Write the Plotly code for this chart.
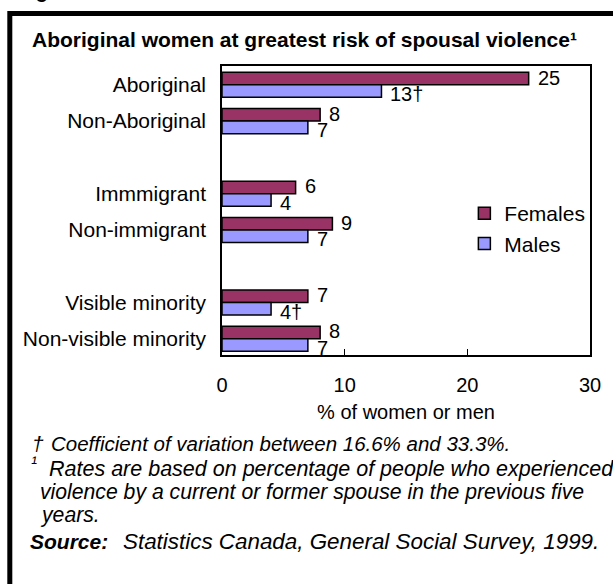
import plotly.graph_objects as go

# Data: share of women / men reporting spousal violence, by population group
categories = ["Aboriginal", "Non-Aboriginal", "Immmigrant", "Non-immigrant",
              "Visible minority", "Non-visible minority"]
females = [25, 8, 6, 9, 7, 8]
males = [13, 7, 4, 7, 4, 7]
female_labels = ["25", "8", "6", "9", "7", "8"]
male_labels = ["13†", "7", "4", "7", "4†", "7"]
x_ticks = [0, 10, 20, 30]

FONT = "Liberation Sans, Arial, sans-serif"
W, H = 613, 584
L, R, T, B = 222, 19, 66, 229
PW, PH = W - L - R, H - T - B

def px(xp):
    return (xp - L) / PW

def py(yp):
    return (H - B - yp) / PH

# pairs of categories are separated by an empty slot
pos = [i + i // 2 for i in range(len(categories))]
bw = 0.345

fig = go.Figure()
fig.add_trace(go.Bar(
    name="Females", y=pos, x=females, orientation="h",
    width=bw, offset=-bw,
    marker=dict(color="#993366", line=dict(color="black", width=1.5)),
    legendgroup="f",
))
fig.add_trace(go.Bar(
    name="Males", y=pos, x=males, orientation="h",
    width=bw, offset=0,
    marker=dict(color="#9999FF", line=dict(color="black", width=1.5)),
    legendgroup="m",
))

annotations = []
for p, v, t in zip(pos, females, female_labels):
    annotations.append(dict(x=v, y=p - bw / 2, text=t, xref="x", yref="y",
                            xanchor="left", yanchor="middle", showarrow=False,
                            xshift=7, yshift=1,
                            font=dict(family=FONT, size=20, color="black")))
for p, v, t in zip(pos, males, male_labels):
    annotations.append(dict(x=v, y=p + bw / 2, text=t, xref="x", yref="y",
                            xanchor="left", yanchor="middle", showarrow=False,
                            xshift=7, yshift=-3,
                            font=dict(family=FONT, size=20, color="black")))

def note(x, y, text, size=21, anchor="left"):
    annotations.append(dict(x=px(x), y=py(y), xref="paper", yref="paper",
                            text=text, showarrow=False, xanchor=anchor,
                            yanchor="middle",
                            font=dict(family=FONT, size=size, color="black")))

# heading cut by the page edge
note(14, -9, "<b>Figure 5</b>", size=20)
note(28, 40, "<b>Aboriginal women at greatest risk of spousal violence¹</b>", size=21)
note(28, 443, "<i>†</i>")
note(47, 443, "<i>Coefficient of variation between 16.6% and 33.3%.</i>", size=20.5)
note(27, 463, "<i>¹</i>", size=18)
note(45, 469, "<i>Rates are based on percentage of people who experienced</i>", size=21.5)
note(36, 492, "<i>violence by a current or former spouse in the previous five</i>", size=21.2)
note(36, 515, "<i>years.</i>", size=21.2)
note(26, 541, "<b><i>Source:</i></b>")
note(120, 541, "<i>Statistics Canada, General Social Survey, 1999.</i>", size=22.4)

# outer frame (extends beyond the page on the right and bottom)
shapes = [dict(type="rect", xref="paper", yref="paper",
               x0=px(7.5), x1=px(700), y0=py(700), y1=py(13.5),
               line=dict(color="black", width=5), fillcolor="rgba(0,0,0,0)",
               layer="above")]

fig.update_layout(
    width=W, height=H,
    margin=dict(l=L, r=R, t=T, b=B, pad=0),
    paper_bgcolor="white", plot_bgcolor="white",
    barmode="overlay",
    font=dict(family=FONT, size=20, color="black"),
    showlegend=True,
    legend=dict(x=px(467), y=py(193), xanchor="left", yanchor="top",
                font=dict(family=FONT, size=21, color="black"),
                bgcolor="rgba(0,0,0,0)", traceorder="grouped",
                tracegroupgap=0, itemwidth=30),
    annotations=annotations,
    shapes=shapes,
)
fig.update_xaxes(
    range=[0, 30], tickvals=x_ticks, ticktext=[str(v) for v in x_ticks],
    ticks="inside", ticklen=6, tickwidth=1, tickcolor="black",
    showline=True, linecolor="black", linewidth=1.5, mirror=True,
    showgrid=False, zeroline=False, ticklabelstandoff=11,
    tickfont=dict(family=FONT, size=20),
    title=dict(text="% of women or men", standoff=10,
               font=dict(family=FONT, size=20)),
)
fig.update_yaxes(
    range=[7.45, -0.52], tickvals=pos, ticktext=categories,
    ticks="", showline=True, linecolor="black", linewidth=1.5, mirror=True,
    showgrid=False, zeroline=False, ticklabelstandoff=10,
    tickfont=dict(family=FONT, size=21),
)

fig.write_html("out.html")
